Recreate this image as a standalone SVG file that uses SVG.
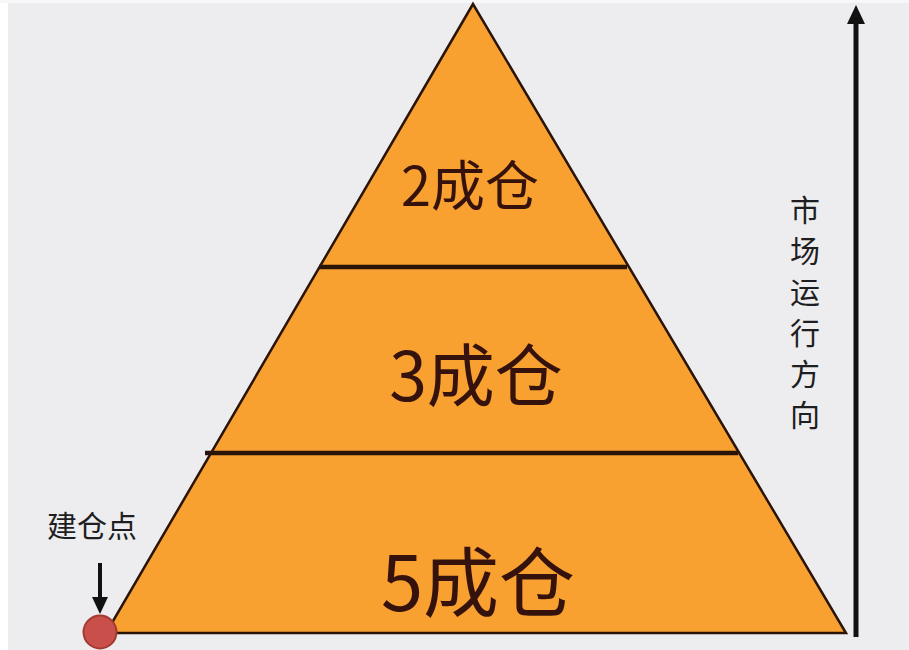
<svg xmlns="http://www.w3.org/2000/svg" width="909" height="650" viewBox="0 0 909 650">
<style>
.lvl{font-family:"Noto Sans CJK SC","Noto Sans",sans-serif;fill:#35120c;text-anchor:middle}
.lab{font-family:"Noto Sans CJK SC",sans-serif;fill:#1e1e22;text-anchor:middle;font-weight:400}
.div{stroke:#2a1408;stroke-width:4.5}
</style>
<rect x="0" y="0" width="909" height="650" fill="#ededef"/>
<rect x="0" y="0" width="8" height="650" fill="#ffffff"/>
<rect x="0" y="0" width="909" height="3" fill="#f7f7f8"/>
<g id="pyramid">
<polygon points="473,4 106,633 846,633" fill="#f8a030" stroke="#2a1408" stroke-width="2.5" stroke-linejoin="miter"/>
<line class="div" x1="319" y1="267" x2="627" y2="267"/>
<line class="div" x1="205" y1="453" x2="738" y2="453"/>
</g>
<g id="level2"><text class="lvl" x="470" y="206" font-size="54">2成仓</text></g>
<g id="level3"><text class="lvl" x="476" y="401" font-size="68">3成仓</text></g>
<g id="level5"><text class="lvl" x="478" y="611" font-size="76">5成仓</text></g>
<g id="entry">
<text class="lab" x="92" y="537" font-size="30">建仓点</text>
<circle cx="100" cy="632" r="16.5" fill="#c9504a" stroke="#a33a30" stroke-width="2"/>
</g>
<g id="direction">
<text class="lab" x="805" font-size="30"><tspan x="805" y="221">市</tspan><tspan x="805" y="262">场</tspan><tspan x="805" y="303">运</tspan><tspan x="805" y="344">行</tspan><tspan x="805" y="385">方</tspan><tspan x="805" y="426">向</tspan></text>
</g>
<g id="connectors">
<line x1="100" y1="563" x2="100" y2="598" stroke="#111" stroke-width="4"/>
<path d="M92,597 L108,597 L100,614 Z" fill="#111"/>
<line x1="856" y1="637" x2="856" y2="22" stroke="#111" stroke-width="5"/>
<path d="M847,24 L865,24 L856,5 Z" fill="#111"/>
</g>
</svg>
